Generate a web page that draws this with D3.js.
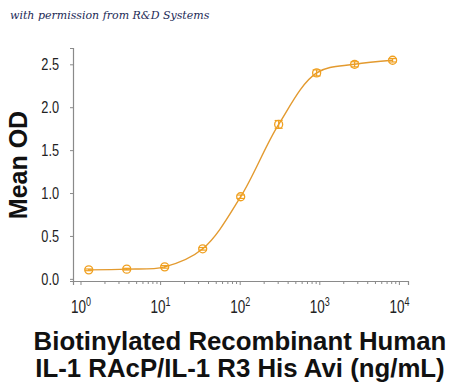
<!DOCTYPE html>
<html><head><meta charset="utf-8">
<script src="https://cdn.jsdelivr.net/npm/d3@7"></script>
<style>
body{margin:0;background:#fff;}
svg{display:block;}
</style></head>
<body>
<svg id="c" width="450" height="389"></svg>
<script>
const concentrations = [1.27, 3.81, 11.43, 34.29, 102.9, 308.6, 925.9, 2777.8, 8333.3];
const meanOD = [0.105, 0.113, 0.14, 0.35, 0.957, 1.80, 2.40, 2.50, 2.547];
const errOD = [0.01, 0.01, 0.015, 0.015, 0.02, 0.045, 0.035, 0.03, 0.02];
const yTicks = [0, 0.5, 1.0, 1.5, 2.0, 2.5];
const xTicks = [1, 10, 100, 1000, 10000];
const xTickExp = ["0", "1", "2", "3", "4"];
const yLabel = "Mean OD";
const xLabelLines = ["Biotinylated Recombinant Human", "IL-1 RAcP/IL-1 R3 His Avi (ng/mL)"];
const credit = "with permission from R&D Systems";

const svg = d3.select("#c");
const axisColor = "#8a8a8a";
const lineColor = "#e39a2f";
const markColor = "#f0a020";
const tickFont = '"Liberation Sans",Arial,sans-serif';
const sx = 0.75;

const x = d3.scaleLog().domain([0.805, 13010]).range([73, 408]);
const y = d3.scaleLinear().domain([-0.025, 2.69]).range([281, 48]);

// credit
svg.append("text").attr("x", 10).attr("y", 19)
  .attr("font-family", '"DejaVu Serif","Liberation Serif",serif')
  .attr("font-style", "italic").attr("font-size", 11)
  .attr("fill", "#1d2b57").text(credit);

// y axis
const gy = svg.append("g").attr("transform", "translate(73,0)")
  .call(d3.axisLeft(y).tickValues(yTicks).tickSize(3).tickFormat(d3.format(".1f")));
gy.select(".domain").attr("stroke", axisColor).attr("stroke-width", 1.2);
gy.selectAll(".tick line").attr("stroke", axisColor);
gy.selectAll(".tick text").attr("font-family", tickFont).attr("font-size", 17).attr("fill", "#222")
  .attr("x", -14 / sx).attr("transform", `scale(${sx},1)`);

// x axis major
const gx = svg.append("g").attr("transform", "translate(0,281)")
  .call(d3.axisBottom(x).tickValues(xTicks).tickSize(4).tickFormat(""));
gx.select(".domain").attr("stroke", axisColor).attr("stroke-width", 1.2);
gx.selectAll(".tick line").attr("stroke", axisColor);

// x axis minor
const minor = [];
for (let d = 1; d <= 10000; d *= 10) for (let k = 2; k <= 9; k++) if (d * k < 13010) minor.push(d * k);
const gm = svg.append("g").attr("transform", "translate(0,281)")
  .call(d3.axisBottom(x).tickValues(minor).tickSize(3).tickFormat(""));
gm.select(".domain").remove();
gm.selectAll(".tick line").attr("stroke", axisColor);

// x tick labels 10^n
xTicks.forEach((v, i) => {
  const t = svg.append("g").attr("transform", `translate(${x(v) + 0.5},313) scale(${sx},1)`)
    .append("text").attr("text-anchor", "middle").attr("font-family", tickFont).attr("fill", "#222");
  t.append("tspan").attr("font-size", 18).text("10");
  t.append("tspan").attr("font-size", 12).attr("dy", -7).text(xTickExp[i]);
});

// curve
const pts = concentrations.map((c, i) => [c, meanOD[i], errOD[i]]);
svg.append("path").datum(pts)
  .attr("fill", "none").attr("stroke", lineColor).attr("stroke-width", 1.4)
  .attr("d", d3.line().x(d => x(d[0])).y(d => y(d[1])).curve(d3.curveCatmullRom.alpha(0.5)));

// error bars
const eb = svg.append("g").attr("stroke", markColor).attr("stroke-width", 1.2);
pts.forEach(d => {
  const cx = x(d[0]), y1 = y(d[1] + d[2]), y2 = y(d[1] - d[2]);
  eb.append("line").attr("x1", cx).attr("x2", cx).attr("y1", y1).attr("y2", y2);
  eb.append("line").attr("x1", cx - 4).attr("x2", cx + 4).attr("y1", y1).attr("y2", y1);
  eb.append("line").attr("x1", cx - 4).attr("x2", cx + 4).attr("y1", y2).attr("y2", y2);
});

// markers
svg.append("g").selectAll("circle").data(pts).join("circle")
  .attr("cx", d => x(d[0])).attr("cy", d => y(d[1])).attr("r", 4)
  .attr("fill", "none").attr("stroke", markColor).attr("stroke-width", 1.3);

// y label
svg.append("text").attr("transform", "translate(27,165) rotate(-90)")
  .attr("text-anchor", "middle").attr("font-family", '"Liberation Sans",Arial,sans-serif')
  .attr("font-weight", "bold").attr("font-size", 25).attr("fill", "#111").text(yLabel);

// x label
xLabelLines.forEach((s, i) => {
  svg.append("text").attr("x", 240).attr("y", 350 + i * 27)
    .attr("text-anchor", "middle").attr("font-family", '"Liberation Sans",Arial,sans-serif')
    .attr("font-weight", "bold").attr("font-size", 25.8).attr("fill", "#111").text(s);
});
</script>
</body></html>
